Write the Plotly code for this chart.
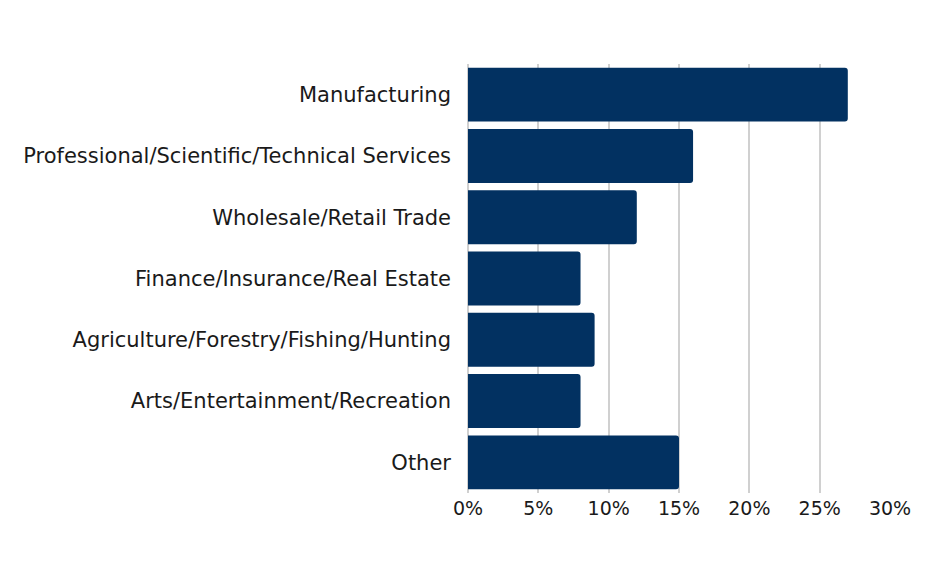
import plotly.graph_objects as go

categories = ["Manufacturing", "Professional/Scientific/Technical Services", "Wholesale/Retail Trade",
              "Finance/Insurance/Real Estate", "Agriculture/Forestry/Fishing/Hunting",
              "Arts/Entertainment/Recreation", "Other"]
values = [27, 16, 12, 8, 9, 8, 15]
tick_vals = [0, 5, 10, 15, 20, 25, 30]
tick_text = ["0%", "5%", "10%", "15%", "20%", "25%", "30%"]

fig = go.Figure(go.Bar(
    x=values, y=categories, orientation="h",
    marker=dict(color="#023161", line=dict(width=0)),
    hoverinfo="skip",
))
fig.update_layout(
    width=925, height=587,
    margin=dict(l=460, r=43, t=56, b=102, autoexpand=False),
    paper_bgcolor="white", plot_bgcolor="white",
    bargap=0.12, barcornerradius=3,
    font=dict(family="DejaVu Sans", size=19, color="#1a1a1a"),
    showlegend=False,
)
fig.update_xaxes(range=[0, 30], tickvals=tick_vals, ticktext=tick_text,
                 showgrid=True, gridcolor="#d0d0d0", gridwidth=2,
                 zeroline=True, zerolinecolor="#d0d0d0", zerolinewidth=2,
                 ticks="", ticklabelstandoff=2, tickfont=dict(size=19))
fig.update_yaxes(autorange="reversed", ticks="", ticklabelstandoff=16,
                 showgrid=False, tickfont=dict(size=21))
fig.write_html("out.html")
